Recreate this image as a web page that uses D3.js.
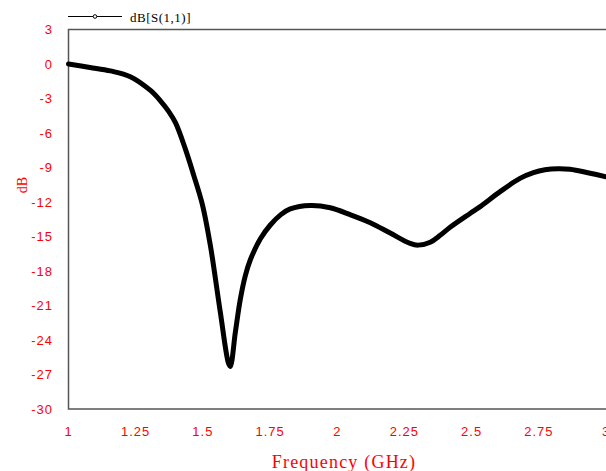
<!DOCTYPE html>
<html>
<head>
<meta charset="utf-8">
<script src="https://cdn.jsdelivr.net/npm/d3@7"></script>
<style>
  body { margin: 0; background: #fff; }
  svg { display: block; }
</style>
</head>
<body>
<div id="chart"></div>
<script>
// S11 curve (GHz, dB)
const freq = [1.0, 1.08, 1.156, 1.23, 1.305, 1.342, 1.372, 1.398, 1.435, 1.465, 1.498,
  1.528, 1.565, 1.595, 1.602, 1.621, 1.639, 1.658, 1.677, 1.714, 1.751, 1.79, 1.825, 1.9, 1.974,
  2.048, 2.123, 2.197, 2.271, 2.301, 2.346, 2.383, 2.42, 2.494, 2.532, 2.606, 2.68, 2.73,
  2.773, 2.82, 2.866, 2.941, 3.0];
const s11 = [0, -0.3, -0.6, -1.1, -2.3, -3.2, -4.1, -5.1, -7.4, -9.6, -12.2,
  -15.8, -21.6, -26.0, -26.3, -23.3, -20.5, -18.4, -17.0, -15.2, -14.0, -13.1, -12.6, -12.3, -12.5,
  -13.1, -13.8, -14.7, -15.6, -15.75, -15.5, -14.9, -14.2, -13.0, -12.4, -11.1, -9.95, -9.45,
  -9.2, -9.1, -9.15, -9.5, -9.8];

const xTicks = [1, 1.25, 1.5, 1.75, 2, 2.25, 2.5, 2.75, 3];
const yTicks = [3, 0, -3, -6, -9, -12, -15, -18, -21, -24, -27, -30];
const seriesName = "dB[S(1,1)]";

const width = 606, height = 471;
const plotLeft = 68.5, plotRight = 606, plotTop = 29.5, plotBottom = 409;

const x = d3.scaleLinear().domain([1, 3]).range([plotLeft, plotRight]);
const y = d3.scaleLinear().domain([3, -30]).range([plotTop, plotBottom]);

const svg = d3.select("#chart").append("svg")
  .attr("width", width).attr("height", height);

// frame
svg.append("path")
  .attr("fill", "none")
  .attr("stroke", "#555")
  .attr("stroke-width", 1.5)
  .attr("d", `M${plotRight},${plotTop}H${plotLeft}V${plotBottom}H${plotRight}`);

// y tick labels
svg.append("g")
  .attr("fill", "#ff0000")
  .attr("font-family", "Liberation Sans, Arial, sans-serif")
  .attr("font-size", 13)
  .attr("letter-spacing", 1)
  .attr("text-anchor", "end")
  .selectAll("text")
  .data(yTicks)
  .join("text")
  .attr("x", 53)
  .attr("y", d => y(d))
  .attr("dy", "0.36em")
  .text(d => d);

// x tick labels (the last one runs off the right edge, as in the original)
svg.append("g")
  .attr("fill", "#ff0000")
  .attr("font-family", "Liberation Sans, Arial, sans-serif")
  .attr("font-size", 13)
  .attr("letter-spacing", 1)
  .attr("text-anchor", "middle")
  .selectAll("text")
  .data(xTicks)
  .join("text")
  .attr("x", d => x(d))
  .attr("y", 431)
  .attr("dy", "0.36em")
  .text(d => d);

// axis titles
svg.append("text")
  .attr("x", 344).attr("y", 462)
  .attr("dy", "0.36em")
  .attr("text-anchor", "middle")
  .attr("fill", "#ff0000")
  .attr("font-family", "Liberation Serif, Times New Roman, serif")
  .attr("font-size", 18)
  .attr("letter-spacing", 1.2)
  .text("Frequency (GHz)");

svg.append("text")
  .attr("transform", "translate(22,185) rotate(-90)")
  .attr("dy", "0.36em")
  .attr("text-anchor", "middle")
  .attr("fill", "#ff0000")
  .attr("font-family", "Liberation Serif, Times New Roman, serif")
  .attr("font-size", 14)
  .text("dB");

// curve
const data = freq.map((f, i) => ({ f, v: s11[i] }));
svg.append("path")
  .datum(data)
  .attr("fill", "none")
  .attr("stroke", "#000")
  .attr("stroke-width", 5)
  .attr("stroke-linejoin", "round")
  .attr("stroke-linecap", "round")
  .attr("d", d3.line().curve(d3.curveCatmullRom.alpha(0.5)).x(d => x(d.f)).y(d => y(d.v)));

// legend
const legend = svg.append("g");
legend.append("line")
  .attr("x1", 68).attr("x2", 122)
  .attr("y1", 16.5).attr("y2", 16.5)
  .attr("stroke", "#000");
legend.append("circle")
  .attr("cx", 95).attr("cy", 16.5).attr("r", 1.8)
  .attr("fill", "#fff").attr("stroke", "#000");
legend.append("text")
  .attr("x", 130).attr("y", 17)
  .attr("dy", "0.36em")
  .attr("font-family", "Liberation Serif, Times New Roman, serif")
  .attr("font-size", 13)
  .attr("letter-spacing", 0.5)
  .text(seriesName);
</script>
</body>
</html>
